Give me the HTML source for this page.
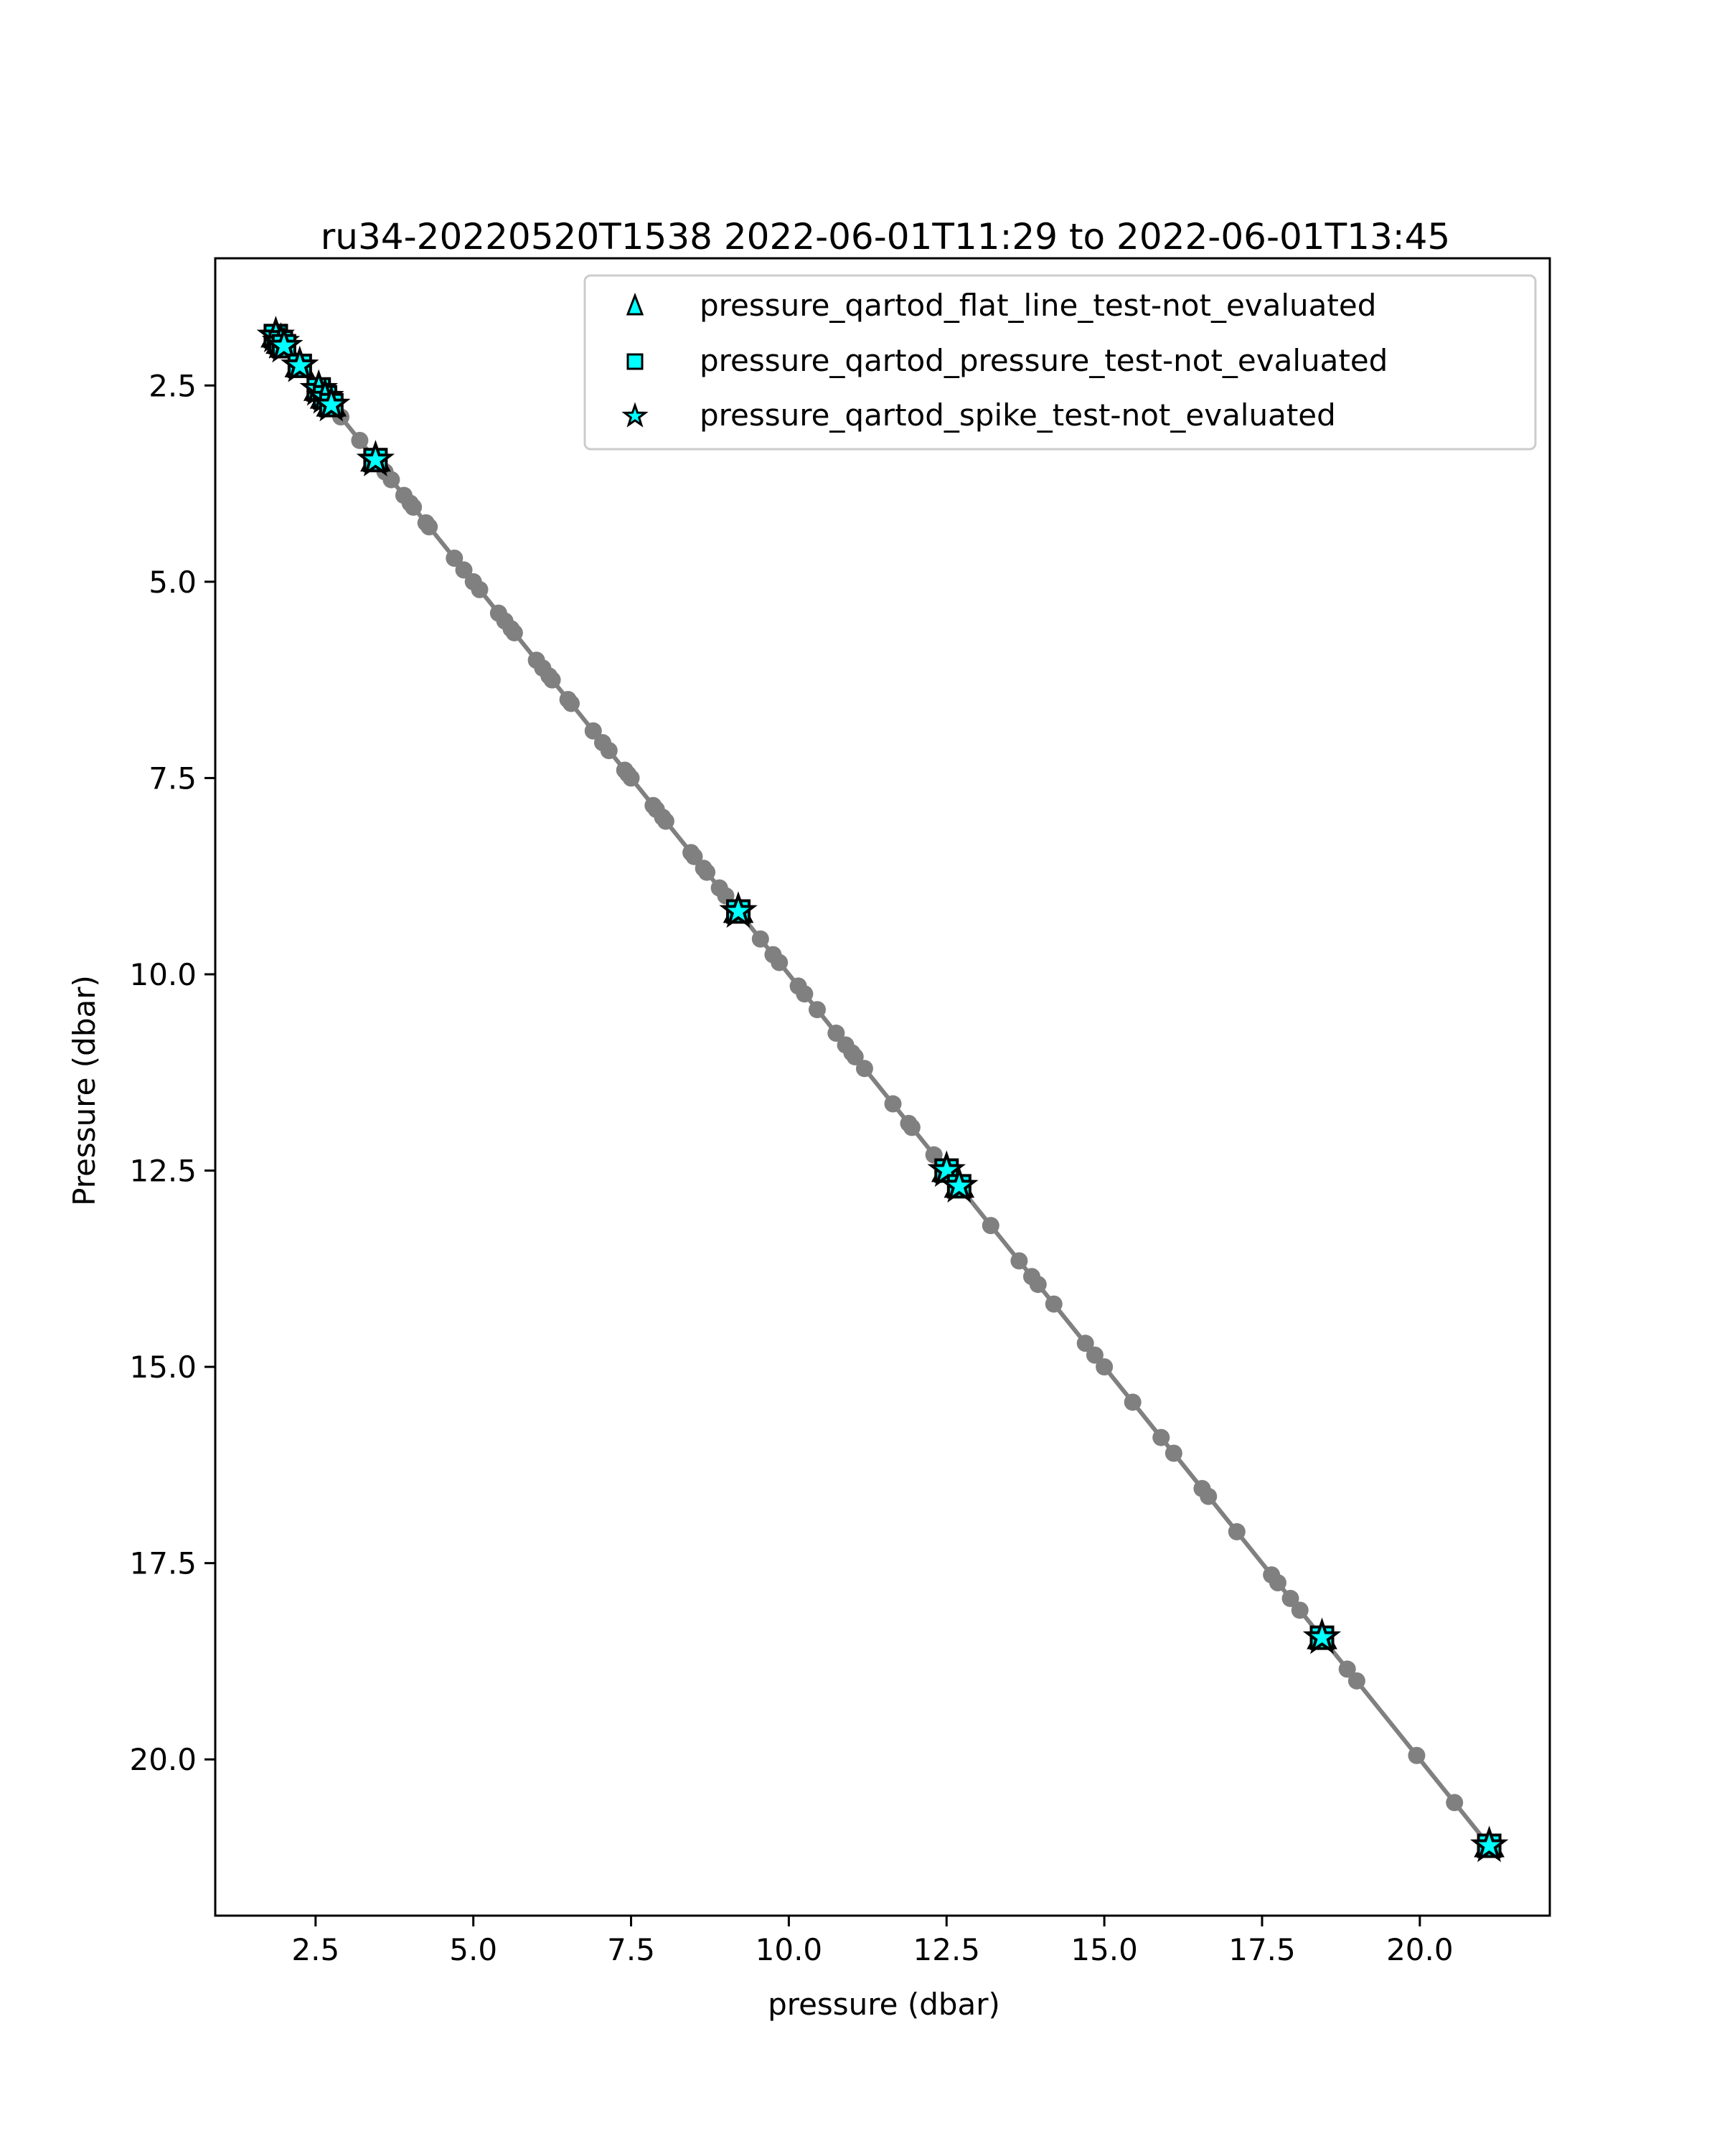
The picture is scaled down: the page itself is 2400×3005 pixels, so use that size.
<!DOCTYPE html>
<html><head><meta charset="utf-8"><style>
html,body{margin:0;padding:0;background:#fff;}
svg text{font-family:"DejaVu Sans","Liberation Sans",sans-serif;}
</style></head><body>
<svg id="chart" width="2400" height="3000" viewBox="0 0 2400 3000" xmlns="http://www.w3.org/2000/svg">
<rect width="2400" height="3000" fill="#fff"/>
<text x="1234" y="347" font-size="50" text-anchor="middle">ru34-20220520T1538 2022-06-01T11:29 to 2022-06-01T13:45</text>
<g id="plot"></g>
<g id="axes"></g>
<text x="1232" y="2808" font-size="42" text-anchor="middle">pressure (dbar)</text>
<text transform="translate(132,1520) rotate(-90)" font-size="42" text-anchor="middle">Pressure (dbar)</text>
<g>
<rect x="815" y="384" width="1325" height="242" rx="8" fill="#fff" fill-opacity="0.8" stroke="#ccc" stroke-width="3"/>
<polygon points="885,412 875,438 895,438" fill="#00ffff" stroke="#000" stroke-width="3"/>
<text x="975" y="440" font-size="42">pressure_qartod_flat_line_test-not_evaluated</text>
<rect x="875" y="494" width="20" height="20" fill="#00ffff" stroke="#000" stroke-width="3"/>
<text x="975" y="517" font-size="42">pressure_qartod_pressure_test-not_evaluated</text>
<polygon id="legstar" fill="#00ffff" stroke="#000" stroke-width="3"/>
<text x="975" y="593" font-size="42">pressure_qartod_spike_test-not_evaluated</text>
</g>
</svg>
<script>
const dotValues=[1.87,1.95,2.0,2.25,2.55,2.65,2.75,2.9,3.2,3.45,3.5,3.6,3.7,3.9,4.0,4.05,4.25,4.3,4.7,4.85,5.0,5.1,5.4,5.5,5.6,5.65,6.0,6.1,6.2,6.25,6.5,6.55,6.9,7.05,7.15,7.4,7.45,7.5,7.85,7.9,8.0,8.05,8.45,8.5,8.65,8.7,8.9,9.0,9.2,9.55,9.75,9.85,10.15,10.25,10.45,10.75,10.9,11.0,11.05,11.2,11.65,11.9,11.95,12.3,12.5,12.7,13.2,13.65,13.85,13.95,14.2,14.7,14.85,15.0,15.45,15.9,16.1,16.55,16.65,17.1,17.65,17.75,17.95,18.1,18.45,18.85,19.0,19.95,20.55,21.1];
const flagValues=[1.87,1.95,2.0,2.25,2.55,2.65,2.75,3.45,9.2,12.5,12.7,18.45,21.1];
const xTicks=[2.5,5.0,7.5,10.0,12.5,15.0,17.5,20.0];
const yTicks=[2.5,5.0,7.5,10.0,12.5,15.0,17.5,20.0];
const L=300,R=2160,T=360,B=2670,XMIN=0.91,XMAX=22.06,YMIN=0.88,YMAX=21.99;
const xs=v=>L+(v-XMIN)/(XMAX-XMIN)*(R-L);
const ys=v=>T+(v-YMIN)/(YMAX-YMIN)*(B-T);
const NS='http://www.w3.org/2000/svg';
function mk(tag,attrs,parent){const e=document.createElementNS(NS,tag);for(const k in attrs)e.setAttribute(k,attrs[k]);parent.appendChild(e);return e;}
function starPts(cx,cy,r){let p=[];for(let i=0;i<10;i++){const a=-Math.PI/2+i*Math.PI/5;const rr=i%2?r*0.4:r;p.push((cx+rr*Math.cos(a)).toFixed(1)+','+(cy+rr*Math.sin(a)).toFixed(1));}return p.join(' ');}
const plot=document.getElementById('plot');
const line=mk('polyline',{points:dotValues.map(v=>xs(v)+','+ys(v)).join(' '),fill:'none',stroke:'#808080','stroke-width':6},plot);


dotValues.forEach(v=>{const c=mk('circle',{cx:xs(v),cy:ys(v),r:12,fill:'#808080'},plot);

});
flagValues.forEach(v=>{const x=xs(v),y=ys(v);
const t=mk('polygon',{points:`${x},${y-20} ${x-18},${y+14} ${x+18},${y+14}`,fill:'#00ffff',stroke:'#000','stroke-width':4},plot);


const s=mk('rect',{x:x-15,y:y-15,width:30,height:30,fill:'#00ffff',stroke:'#000','stroke-width':4},plot);


const st=mk('polygon',{points:starPts(x,y,22),fill:'#00ffff',stroke:'#000','stroke-width':4},plot);

});
document.getElementById('legstar').setAttribute('points',starPts(885,580,15));
const ax=document.getElementById('axes');
const fr=mk('rect',{x:L,y:T,width:R-L,height:B-T,fill:'none',stroke:'#000','stroke-width':3},ax);


xTicks.forEach(v=>{const x=xs(v);
const tk=mk('line',{x1:x,x2:x,y1:B,y2:B+15,stroke:'#000','stroke-width':3},ax);


const tx=mk('text',{x:x,y:B+62,'font-size':42,'text-anchor':'middle'},ax);tx.textContent=v.toFixed(1);

});
yTicks.forEach(v=>{const y=ys(v);
const tk=mk('line',{x1:L-15,x2:L,y1:y,y2:y,stroke:'#000','stroke-width':3},ax);


const tx=mk('text',{x:L-26,y:y+15,'font-size':42,'text-anchor':'end'},ax);tx.textContent=v.toFixed(1);

});
</script>
</body></html>
